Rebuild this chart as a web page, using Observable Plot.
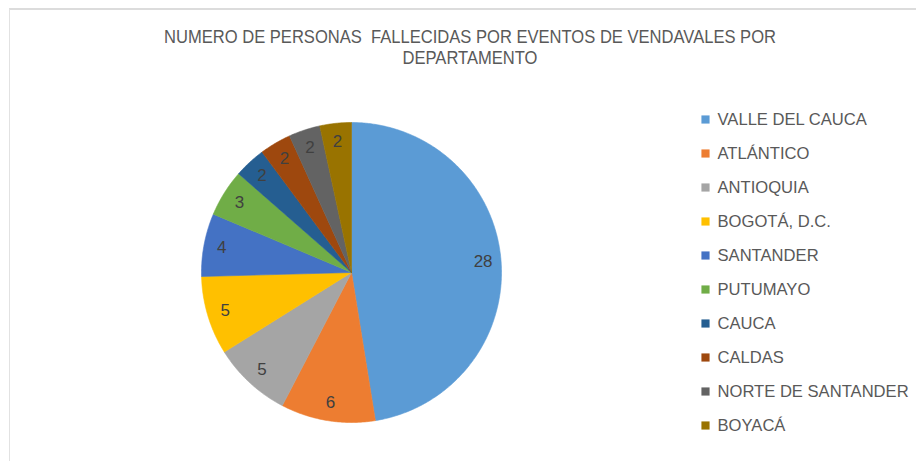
<!DOCTYPE html>
<html>
<head>
<meta charset="utf-8">
<script src="https://cdn.jsdelivr.net/npm/d3@7"></script>
<script src="https://cdn.jsdelivr.net/npm/@observablehq/plot@0.6"></script>
<style>
  html, body { margin: 0; padding: 0; background: #ffffff; }
  #root { position: relative; width: 916px; height: 461px; overflow: hidden; background: #fff;
          font-family: "Liberation Sans Narrow", "Arial Narrow", "Liberation Sans", Arial, sans-serif; }
  #frame { position: absolute; left: 9px; top: 8px; width: 907px; height: 453px;
           border-top: 2px solid #dcdcdc; border-left: 1px solid #e2e2e2; box-sizing: border-box; }
  #title { position: absolute; left: 120px; width: 700px; top: 27px; text-align: center;
           font-size: 18px; line-height: 21px; color: #595959; white-space: pre;
           transform: scaleX(0.92); transform-origin: 350px 0; }
  #pie { position: absolute; left: 181px; top: 102px; }
  #legend { position: absolute; left: 695px; top: 98px; }
</style>
</head>
<body>
<div id="root">
  <div id="frame"></div>
  <div id="title">NUMERO DE PERSONAS  FALLECIDAS POR EVENTOS DE VENDAVALES POR
DEPARTAMENTO</div>
  <div id="pie"></div>
  <div id="legend"></div>
</div>
<script>
const departamentos = ["VALLE DEL CAUCA", "ATLÁNTICO", "ANTIOQUIA", "BOGOTÁ, D.C.", "SANTANDER",
  "PUTUMAYO", "CAUCA", "CALDAS", "NORTE DE SANTANDER", "BOYACÁ"];
const fallecidos = [28, 6, 5, 5, 4, 3, 2, 2, 2, 2];
const colores = ["#5B9BD5", "#ED7D31", "#A5A5A5", "#FFC000", "#4472C4",
  "#70AD47", "#255E91", "#9E480E", "#636363", "#997300"];

const FONT = '"Liberation Sans Narrow", "Arial Narrow", "Liberation Sans", Arial, sans-serif';

const rows = departamentos.map((name, i) => ({name, value: fallecidos[i]}));
const arcs = d3.pie().sort(null).value(d => d.value)(rows);

// slice outlines derived from the pie angles
const outline = [];
for (const a of arcs) {
  outline.push({name: a.data.name, x: 0, y: 0});
  const n = Math.max(2, Math.ceil((a.endAngle - a.startAngle) / (Math.PI / 360)));
  for (let k = 0; k <= n; k++) {
    const t = a.startAngle + (a.endAngle - a.startAngle) * k / n;
    outline.push({name: a.data.name, x: Math.sin(t), y: Math.cos(t)});
  }
  outline.push({name: a.data.name, x: 0, y: 0});
}
const labelR = 0.88;
const labels = arcs.map(a => {
  const m = (a.startAngle + a.endAngle) / 2;
  return {text: String(a.data.value), x: labelR * Math.sin(m), y: labelR * Math.cos(m)};
});

const pie = Plot.plot({
  width: 340, height: 340, margin: 20,
  x: {domain: [-1, 1], axis: null},
  y: {domain: [-1, 1], axis: null},
  color: {domain: departamentos, range: colores},
  style: {background: "transparent", fontFamily: FONT},
  marks: [
    Plot.line(outline, {x: "x", y: "y", z: "name", fill: "name", stroke: "name", strokeWidth: 0.6}),
    Plot.text(labels, {x: "x", y: "y", text: "text", fill: "#404040", fontSize: 17, fontFamily: FONT})
  ]
});
document.getElementById("pie").appendChild(pie);

const legend = Plot.plot({
  width: 221, height: 348, marginTop: 17, marginBottom: 17, marginLeft: 0, marginRight: 0,
  y: {domain: departamentos, axis: null, padding: 0},
  color: {domain: departamentos, range: colores},
  style: {background: "transparent", fontFamily: FONT},
  marks: [
    Plot.dot(departamentos, {y: d => d, fill: d => d, symbol: "square", r: 4.6, frameAnchor: "left", dx: 10, stroke: null}),
    Plot.text(departamentos, {y: d => d, text: d => d, frameAnchor: "left", dx: 22, textAnchor: "start",
      fill: "#595959", fontSize: 16.6, fontFamily: FONT})
  ]
});
document.getElementById("legend").appendChild(legend);
</script>
</body>
</html>
